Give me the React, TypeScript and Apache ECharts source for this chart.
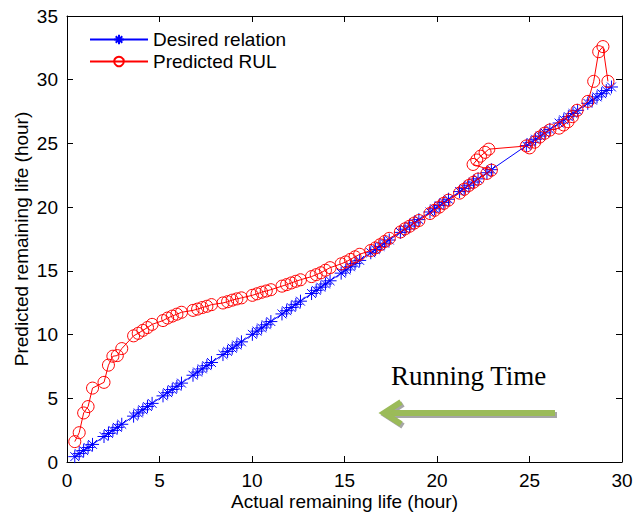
import React, { useEffect, useRef } from "react";
import * as echarts from "echarts";

// Actual remaining life (hour) at each prediction instant
const desiredX = [
  0.42, 0.66, 0.9, 1.14, 1.38,
  2.0, 2.24, 2.48, 2.72, 2.96,
  3.6, 3.85, 4.1, 4.35, 4.6,
  5.19, 5.44, 5.69, 5.94, 6.19,
  6.81, 7.06, 7.31, 7.56, 7.81,
  8.43, 8.68, 8.93, 9.18, 9.43,
  10.02, 10.27, 10.52, 10.77, 11.02,
  11.62, 11.87, 12.12, 12.37, 12.62,
  13.22, 13.47, 13.72, 13.97, 14.22,
  14.82, 15.07, 15.32, 15.57, 15.82,
  16.42, 16.67, 16.92, 17.17, 17.42,
  18.02, 18.27, 18.52, 18.77, 19.02,
  19.62, 19.87, 20.12, 20.37, 20.62,
  21.22, 21.47, 21.72, 21.97, 22.22,
  22.7, 22.94,
  24.83, 25.08, 25.33, 25.58, 25.83, 26.1,
  26.6, 26.85, 27.1, 27.35, 27.6,
  28.15, 28.4, 28.65, 28.9, 29.15, 29.43,
];

const predictedX = [
  0.42, 0.66, 0.9, 1.14, 1.38,
  2.0, 2.24, 2.48, 2.72, 2.96,
  3.6, 3.85, 4.1, 4.35, 4.6,
  5.19, 5.44, 5.69, 5.94, 6.19,
  6.81, 7.06, 7.31, 7.56, 7.81,
  8.43, 8.68, 8.93, 9.18, 9.43,
  10.02, 10.27, 10.52, 10.77, 11.02,
  11.62, 11.87, 12.12, 12.37, 12.62,
  13.22, 13.47, 13.72, 13.97, 14.22,
  14.82, 15.07, 15.32, 15.57, 15.82,
  16.42, 16.67, 16.92, 17.17, 17.42,
  18.02, 18.27, 18.52, 18.77, 19.02,
  19.62, 19.87, 20.12, 20.37, 20.62,
  21.22, 21.47, 21.72, 21.97, 22.22,
  22.7, 22.94,
  21.95, 22.15, 22.35, 22.6, 22.8,
  24.83, 25.0, 25.28, 25.55, 25.82, 26.1,
  26.6, 26.85, 27.08, 27.32, 27.57,
  28.16, 28.47, 28.74, 28.97, 29.24,
];

const predictedY = [
  1.6, 2.3, 3.85, 4.35, 5.8,
  6.25, 7.6, 8.3, 8.35, 8.9,
  9.9, 10.1, 10.33, 10.55, 10.8,
  11.1, 11.3, 11.45, 11.6, 11.75,
  11.9, 12.0, 12.12, 12.22, 12.35,
  12.48, 12.58, 12.7, 12.8, 12.88,
  13.08, 13.2, 13.32, 13.42, 13.52,
  13.8, 13.92, 14.05, 14.18, 14.3,
  14.55, 14.7, 14.85, 15.05, 15.25,
  15.55, 15.7, 15.9, 16.1, 16.3,
  16.6, 16.8, 17.05, 17.3, 17.55,
  18.05, 18.3, 18.5, 18.75, 18.95,
  19.5, 19.75, 20.0, 20.3, 20.55,
  21.1, 21.4, 21.7, 21.95, 22.2,
  22.65, 22.9,
  23.35, 23.7, 24.0, 24.3, 24.55,
  24.8, 24.65, 25.1, 25.5, 25.8, 26.05,
  26.2, 26.45, 26.7, 27.1, 27.6,
  28.3, 29.87, 32.2, 32.6, 29.87,
];

const seriesNames = ["Desired relation", "Predicted RUL"];
const xAxisTitle = "Actual remaining life (hour)";
const yAxisTitle = "Predicted remaining life (hour)";
const annotationText = "Running Time";

const FONT = "'Liberation Sans', Arial, Helvetica, sans-serif";
const STAR = "path://M5,0L5,10M0,5L10,5M1.6,1.6L8.4,8.4M8.4,1.6L1.6,8.4";

export default function App() {
  const ref = useRef<HTMLDivElement>(null);

  useEffect(() => {
    if (!ref.current) return;
    const chart = echarts.init(ref.current, null, { renderer: "svg" });

    const axisCommon = {
      type: "value" as const,
      interval: 5,
      axisLine: { show: true, onZero: false, lineStyle: { color: "#000", width: 1 } },
      axisTick: { show: true, inside: true, length: 6, lineStyle: { color: "#000" } },
      splitLine: { show: false },
    };

    const arrow = (dx: number, dy: number, color: string) => [
      {
        type: "line",
        shape: { x1: 555 + dx, y1: 413 + dy, x2: 386 + dx, y2: 413 + dy },
        style: { stroke: color, lineWidth: 6 },
        silent: true,
      },
      {
        type: "polyline",
        shape: { points: [[401 + dx, 402 + dy], [384 + dx, 413 + dy], [401 + dx, 424 + dy]] },
        style: { stroke: color, lineWidth: 6, fill: "none", lineJoin: "miter" },
        silent: true,
      },
    ];

    chart.setOption({
      animation: false,
      backgroundColor: "#fff",
      grid: { left: 67, right: 17, top: 16, bottom: 52, containLabel: false, outerBoundsMode: "none" },
      legend: {
        left: 84,
        top: 25,
        orient: "vertical",
        itemWidth: 58,
        itemHeight: 12,
        itemGap: 3,
        textStyle: { fontFamily: FONT, fontSize: 19, color: "#000" },
        data: seriesNames,
      },
      xAxis: [
        {
          ...axisCommon,
          min: 0,
          max: 30,
          position: "bottom",
          name: xAxisTitle,
          nameLocation: "middle",
          nameGap: 30,
          nameMoveOverlap: false,
          nameTextStyle: { fontFamily: FONT, fontSize: 19, lineHeight: 19, color: "#000" },
          axisLabel: { fontFamily: FONT, fontSize: 19, lineHeight: 19, color: "#000", margin: 9 },
        },
        {
          ...axisCommon,
          min: 0,
          max: 30,
          position: "top",
          axisLabel: { show: false },
        },
      ],
      yAxis: [
        {
          ...axisCommon,
          min: 0,
          max: 35,
          position: "left",
          name: yAxisTitle,
          nameLocation: "middle",
          nameGap: 36,
          nameMoveOverlap: false,
          nameRotate: 90,
          nameTextStyle: { fontFamily: FONT, fontSize: 19, lineHeight: 19, color: "#000" },
          axisLabel: { fontFamily: FONT, fontSize: 19, color: "#000", margin: 9 },
        },
        {
          ...axisCommon,
          min: 0,
          max: 35,
          position: "right",
          axisLabel: { show: false },
        },
      ],
      series: [
        {
          name: seriesNames[0],
          type: "line",
          data: desiredX.map((x) => [x, x]),
          symbol: STAR,
          symbolSize: 13,
          showAllSymbol: true,
          lineStyle: { color: "#0000ff", width: 1 },
          itemStyle: { color: "#0000ff", borderColor: "#0000ff", borderWidth: 1 },
          clip: false,
          z: 2,
        },
        {
          name: seriesNames[1],
          type: "line",
          data: predictedX.map((x, i) => [x, predictedY[i]]),
          symbol: "circle",
          symbolSize: 12,
          showAllSymbol: true,
          lineStyle: { color: "#ff0000", width: 1 },
          itemStyle: { color: "rgba(255,255,255,0)", borderColor: "#ff0000", borderWidth: 1 },
          clip: false,
          z: 3,
        },
      ],
      graphic: [
        {
          type: "text",
          left: 391,
          top: 362,
          style: {
            text: annotationText,
            fontFamily: "'Liberation Serif', 'Times New Roman', serif",
            fontSize: 27,
            fill: "#000",
          },
          silent: true,
        },
        ...arrow(2, 2, "#a6a6a6"),
        ...arrow(0, 0, "#9bbb59"),
      ],
    });

    return () => chart.dispose();
  }, []);

  return (
    <div
      ref={ref}
      style={{ position: "fixed", left: 0, top: 0, width: 639, height: 514, background: "#fff" }}
    />
  );
}
